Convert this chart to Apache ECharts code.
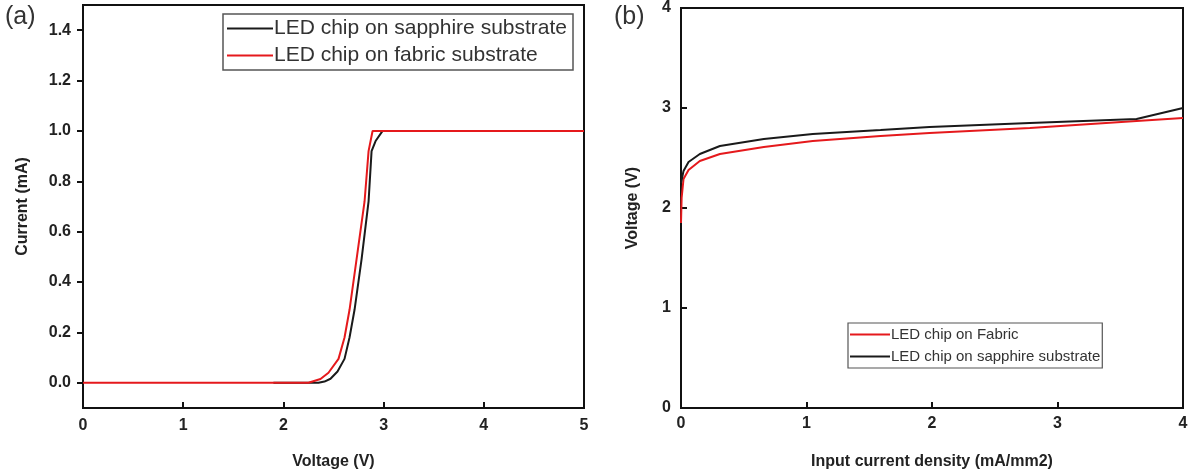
<!DOCTYPE html>
<html>
<head>
<meta charset="utf-8">
<script src="https://cdn.jsdelivr.net/npm/echarts@6/dist/echarts.min.js"></script>
<style>
  html, body { margin: 0; padding: 0; background: #fff; }
  #chart { width: 1194px; height: 475px; }
</style>
</head>
<body>
<div id="chart"></div>
<script>
// (a) I-V curves: [voltage, current]
var ivSapphire = [[1.9,0],[2.35,0],[2.41,0.005],[2.47,0.016],[2.54,0.045],[2.61,0.095],[2.66,0.18],[2.71,0.29],[2.78,0.49],[2.85,0.72],[2.88,0.92],[2.92,0.96],[2.99,1.0],[5,1.0]];
var ivFabric = [[0,0],[2.25,0],[2.37,0.015],[2.45,0.04],[2.55,0.095],[2.61,0.18],[2.66,0.29],[2.73,0.49],[2.81,0.72],[2.85,0.92],[2.89,1.0],[5,1.0]];
// (b) voltage vs input current density: [density, voltage]
var vjFabric = [[0,1.85],[0.005,2.1],[0.02,2.29],[0.06,2.38],[0.15,2.47],[0.31,2.54],[0.66,2.61],[1.05,2.67],[1.59,2.72],[1.98,2.75],[2.78,2.8],[3.63,2.87],[4,2.9]];
var vjSapphire = [[0,2.25],[0.02,2.37],[0.06,2.46],[0.15,2.54],[0.31,2.62],[0.66,2.69],[1.05,2.74],[1.59,2.78],[1.98,2.81],[2.78,2.85],[3.63,2.89],[4,3.0]];
var currentTicks = [0,0.2,0.4,0.6,0.8,1.0,1.2,1.4];

var chart = echarts.init(document.getElementById('chart'));

var RED = '#e5191c', BLACK = '#1a1a1a';
var labelStyle = {color: '#222', fontSize: 16, fontWeight: 'bold', fontFamily: 'Arial'};
var nameStyle = {color: '#222', fontSize: 16, fontWeight: 'bold', fontFamily: 'Arial'};
var axisLine = {show: true, onZero: false, lineStyle: {color: '#111', width: 2}};

function lineSeries(name, data, color, idx){
  return {
    name: name, type: 'line', data: data, xAxisIndex: idx, yAxisIndex: idx,
    showSymbol: false, symbol: 'none', smooth: false,
    lineStyle: {color: color, width: 2}, itemStyle: {color: color}
  };
}

chart.setOption({
  animation: false,
  title: [
    {text: '(a)', left: 0, top: 0, textStyle: {fontSize: 25, fontWeight: 'normal', color: '#333', fontFamily: 'Arial'}},
    {text: '(b)', left: 609, top: 0, textStyle: {fontSize: 25, fontWeight: 'normal', color: '#333', fontFamily: 'Arial'}}
  ],
  grid: [
    {left: 83, right: 610, top: 5, bottom: 66, show: true, borderColor: '#111', borderWidth: 2},
    {left: 681, right: 11, top: 6, bottom: 67, show: true, borderColor: '#111', borderWidth: 2}
  ],
  legend: [
    {
      data: ['LED chip on sapphire substrate', 'LED chip on fabric substrate'],
      orient: 'vertical', left: 223, top: 14, icon: 'rect', itemWidth: 46, itemHeight: 2, itemGap: 6,
      padding: [4, 6, 4, 4], borderColor: '#555', borderWidth: 1.5,
      textStyle: {fontSize: 21, color: '#333', fontFamily: 'Arial', padding: [0, 0, 0, -4]}
    },
    {
      data: ['LED chip on Fabric', 'LED chip on sapphire substrate'],
      orient: 'vertical', left: 848, top: 323, icon: 'rect', itemWidth: 40, itemHeight: 2, itemGap: 7,
      padding: [4, 2, 4, 2], borderColor: '#555', borderWidth: 1.2,
      textStyle: {fontSize: 15, color: '#333', fontFamily: '"Liberation Sans Narrow", Arial', padding: [0, 0, 0, -4]}
    }
  ],
  xAxis: [
    {
      gridIndex: 0, type: 'value', min: 0, max: 5, interval: 1,
      name: 'Voltage (V)', nameLocation: 'middle', nameGap: 46, nameTextStyle: nameStyle,
      axisLine: axisLine, splitLine: {show: false},
      axisTick: {inside: true, length: 6, lineStyle: {color: '#111', width: 2}},
      axisLabel: Object.assign({margin: 10}, labelStyle)
    },
    {
      gridIndex: 1, type: 'value', min: 0, max: 4, interval: 1,
      name: 'Input current density (mA/mm2)', nameLocation: 'middle', nameGap: 46, nameTextStyle: nameStyle,
      axisLine: axisLine, splitLine: {show: false},
      axisTick: {inside: true, length: 6, lineStyle: {color: '#111', width: 2}},
      axisLabel: Object.assign({margin: 8}, labelStyle)
    }
  ],
  yAxis: [
    {
      gridIndex: 0, type: 'value', min: -0.1, max: 1.5,
      name: 'Current (mA)', nameLocation: 'middle', nameGap: 52, nameTextStyle: nameStyle,
      axisLine: axisLine, splitLine: {show: false},
      axisTick: {customValues: currentTicks, length: 6, lineStyle: {color: '#111', width: 2}},
      axisLabel: Object.assign({customValues: currentTicks, margin: 12, formatter: function(v){ return v.toFixed(1); }}, labelStyle)
    },
    {
      gridIndex: 1, type: 'value', min: 0, max: 4, interval: 1,
      name: 'Voltage (V)', nameLocation: 'middle', nameGap: 40, nameTextStyle: nameStyle,
      axisLine: axisLine, splitLine: {show: false},
      axisTick: {inside: true, length: 6, lineStyle: {color: '#111', width: 2}},
      axisLabel: Object.assign({margin: 10}, labelStyle)
    }
  ],
  series: [
    lineSeries('LED chip on sapphire substrate', ivSapphire, BLACK, 0),
    lineSeries('LED chip on fabric substrate', ivFabric, RED, 0),
    lineSeries('LED chip on Fabric', vjFabric, RED, 1),
    lineSeries('LED chip on sapphire substrate', vjSapphire, BLACK, 1)
  ]
});
</script>
</body>
</html>
